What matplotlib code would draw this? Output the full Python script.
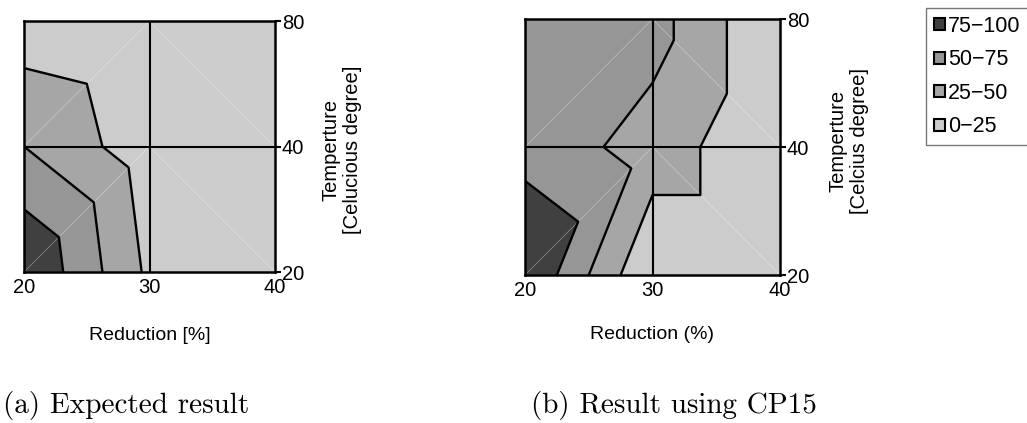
import matplotlib
matplotlib.use("Agg")
import matplotlib.pyplot as plt
import matplotlib.tri as mtri
from matplotlib.patches import Patch
import numpy as np

# grid categories
reduction = [20, 30, 40]        # x categories
temperature = [20, 40, 80]      # y categories

# node values (rows = temperature 20,40,80 ; cols = reduction 20,30,40)
expected = np.array([[100, 20, 0],
                     [50, 10, 0],
                     [10, 0, 0]])
cp15 = np.array([[100, 0, 0],
                 [66, 40, 0],
                 [65, 60, 0]])

levels = [-1, 25, 50, 75, 101]
band_labels = ["0\u221225", "25\u221250", "50\u221275", "75\u2212100"]
band_colors = ["#cccccc", "#a6a6a6", "#969696", "#404040"]

# category grid -> triangulation ("/" in left cells, "\" in right cells)
xi, yi = np.meshgrid(np.arange(len(reduction)), np.arange(len(temperature)))
xi = xi.ravel()
yi = yi.ravel()
tris = [[0, 1, 4], [0, 4, 3], [1, 2, 4], [2, 5, 4],
        [3, 4, 7], [3, 7, 6], [4, 5, 7], [5, 8, 7]]
tri = mtri.Triangulation(xi, yi, tris)

fig = plt.figure(figsize=(10.27, 4.23), dpi=100)
ax_a = fig.add_axes([24 / 1027, 1 - 272 / 423, 251 / 1027, 251 / 423])
ax_b = fig.add_axes([525 / 1027, 1 - 275 / 423, 255 / 1027, 256 / 423])

sans = ["Liberation Sans", "DejaVu Sans"]
tick_font = dict(family=sans, size=14.5)


def draw(ax, z, xlabel, ylabel, ylab_x, ylab_y, xlab_y):
    zz = z.ravel()
    ax.tricontourf(tri, zz, levels=levels, colors=band_colors)
    ax.triplot(tri, color="white", lw=0.5, alpha=0.4)
    ax.tricontour(tri, zz, levels=[25, 50, 75], colors="black", linewidths=1.7)
    ax.axvline(1, color="black", lw=1.5)
    ax.axhline(1, color="black", lw=1.5)
    ax.set_xlim(0, 2)
    ax.set_ylim(0, 2)
    ax.set_xticks(range(3))
    ax.set_xticklabels([str(v) for v in reduction], fontdict=tick_font)
    ax.set_yticks(range(3))
    ax.set_yticklabels([str(v) for v in temperature], fontdict=tick_font)
    ax.yaxis.tick_right()
    ax.tick_params(axis="x", length=0, pad=4)
    ax.tick_params(axis="y", length=4, width=1.5, pad=1)
    for s in ax.spines.values():
        s.set_linewidth(1.8)
    ax.text(0.5, xlab_y, xlabel, transform=ax.transAxes, ha="center",
            va="center", family=sans, fontsize=14)
    ax.text(ylab_x, ylab_y, ylabel, transform=ax.transAxes, ha="center",
            va="center", rotation=90, family=sans, fontsize=14.5,
            linespacing=1.15, multialignment="center")


draw(ax_a, expected, "Reduction [%]", "Temperture\n[Celucious degree]",
     1.267, 0.486, -0.251)
draw(ax_b, cp15, "Reduction (%)", "Temperture\n[Celcius degree]",
     1.271, 0.523, -0.234)

handles = [Patch(facecolor=c, edgecolor="black", lw=1.5)
           for c in band_colors[::-1]]
leg = fig.legend(handles, band_labels[::-1], loc="upper left",
                 bbox_to_anchor=(926 / 1027, 1 - 8 / 423), borderaxespad=0,
                 prop=dict(family=sans, size=15.5), frameon=True,
                 fancybox=False, edgecolor="#555555", handlelength=0.5,
                 handleheight=0.5, handletextpad=0.15, labelspacing=0.58,
                 borderpad=0.37)
leg.get_frame().set_linewidth(1.0)

fig.text(3 / 1027, 1 - 413 / 423, "(a) Expected result", family="cmr10",
         fontsize=21, va="baseline")
fig.text(531 / 1027, 1 - 413 / 423, "(b) Result using CP15", family="cmr10",
         fontsize=21, va="baseline")

fig.savefig("out.png", dpi=100)
